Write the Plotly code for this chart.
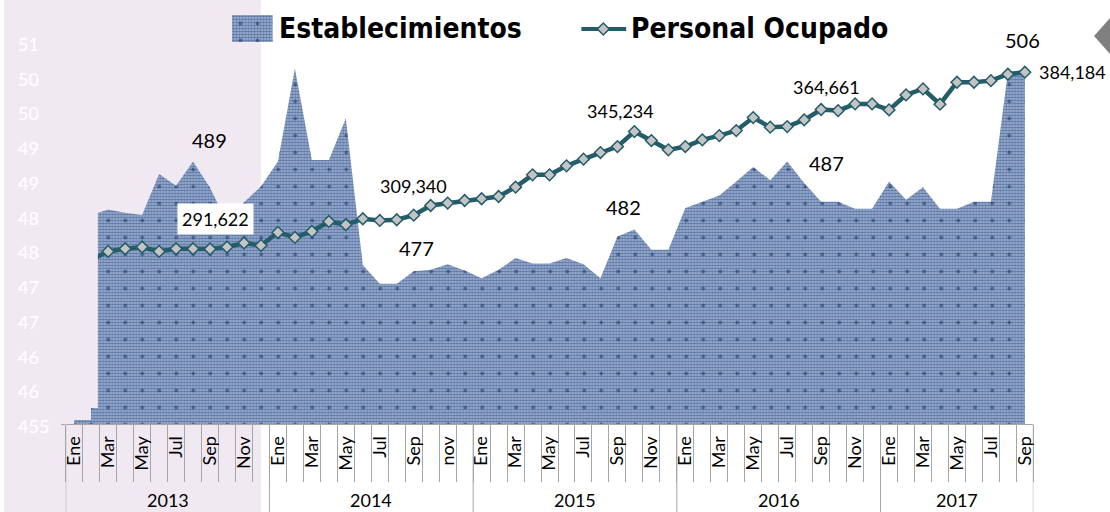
import plotly.graph_objects as go

W, H = 1110, 512

# ---------------------------------------------------------------- data
years = ["2013", "2014", "2015", "2016", "2017"]
months = ["Ene", "Feb", "Mar", "Abr", "May", "Jun", "Jul", "Ago", "Sep", "Oct", "Nov", "Dic"]
months_2014 = ["Ene", "Feb", "Mar", "Abr", "May", "Jun", "Jul", "Ago", "Sep", "Oct", "nov", "Dic"]
months_in_2017 = 9

# Establecimientos (left axis)
establecimientos = [
    485.0, 485.1, 485.9, 485.4, 485.1, 491.0, 489.3, 492.8, 489.0, 484.0, 486.9, 489.2,  # 2013
    492.8, 506.2, 493.0, 493.0, 499.0, 477.9, 475.2, 475.2, 477.0, 477.2, 478.0, 477.1,  # 2014
    476.0, 477.2, 478.9, 478.1, 478.1, 478.9, 478.0, 476.0, 482.0, 483.0, 480.1, 480.1,  # 2015
    486.1, 487.0, 487.9, 489.9, 492.0, 490.1, 492.8, 489.7, 487.0, 487.0, 486.0, 486.0,  # 2016
    489.9, 487.3, 489.1, 486.0, 486.0, 487.0, 487.0, 505.6, 506.0,                       # 2017
]

# Personal Ocupado (right axis, hidden)
personal_ocupado = [
    None, 286000, 290357, 291767, 292656, 290357, 291767, 291767, 291622, 292656, 294748, 293493,
    300291, 297677, 300815, 306044, 304318, 307456, 306567, 306933, 309340, 314410, 315665, 317025,
    317914, 319117, 324032, 330464, 330464, 335170, 338672, 342124, 345234, 353107, 348401, 343537,
    345263, 348767, 351016, 353630, 360428, 355408, 355722, 359222, 364661, 364086, 367590, 367590,
    364452, 372294, 375431, 367433, 378937, 378937, 379774, 383121, 384184,
]

y_tick_values = [455, 460, 465, 470, 475, 480, 485, 490, 495, 500, 505, 510]
y_tick_labels = ["455", "46", "46", "47", "47", "48", "48", "49", "49", "50", "50", "51"]

# ---------------------------------------------------------------- helpers
periods = []
for yr in years:
    names = months_2014 if yr == "2014" else months
    if yr == "2017":
        names = names[:months_in_2017]
    for m in names:
        periods.append((yr, m))
x_idx = list(range(len(periods)))
n = len(periods)


def px_x(px):
    return px / W


def px_y(py):
    return 1 - py / H


NAVY = "#183870"
LIGHT = "#A8BAD9"
CROSS = "#112C60"
TEAL = "#235D6A"
GREY = "#A6A6A6"
LAVENDER = "#F1E9F2"
FONT = "Lato, 'Open Sans', sans-serif"
LEGEND_FONT = "'Liberation Sans Narrow', 'DejaVu Sans Condensed', 'Liberation Sans', sans-serif"

fine_pattern = dict(shape=".", fgcolor=NAVY, bgcolor=LIGHT, size=3, solidity=0.62)
cross_pattern = dict(shape=".", fgcolor=CROSS, bgcolor="rgba(0,0,0,0)", size=17, solidity=0.04)

fig = go.Figure()

# area: fine checker texture plus sparse dark dots on top
fig.add_trace(go.Scatter(
    x=x_idx, y=establecimientos, mode="lines", fill="tozeroy",
    line=dict(width=0, color=NAVY), fillpattern=fine_pattern,
    hoverinfo="skip", showlegend=False, name="Establecimientos"))
fig.add_trace(go.Scatter(
    x=x_idx, y=establecimientos, mode="lines", fill="tozeroy",
    fillcolor="rgba(0,0,0,0)", line=dict(width=0), fillpattern=cross_pattern,
    hoverinfo="skip", showlegend=False))

# line with diamond markers
fig.add_trace(go.Scatter(
    x=x_idx, y=personal_ocupado, yaxis="y2", mode="lines+markers",
    line=dict(color=TEAL, width=4.5),
    marker=dict(symbol="diamond", size=9, color="#C4C4C4", line=dict(color=TEAL, width=1.5)),
    hoverinfo="skip", showlegend=False, name="Personal Ocupado"))

# legend swatch drawn on its own small axes
for patt in (fine_pattern, cross_pattern):
    fig.add_trace(go.Scatter(
        x=[0, 1, 1, 0, 0], y=[0, 0, 1, 1, 0], xaxis="x3", yaxis="y3",
        mode="lines", fill="toself", line=dict(width=0),
        fillcolor="rgba(0,0,0,0)" if patt is cross_pattern else LIGHT,
        fillpattern=patt, hoverinfo="skip", showlegend=False))

# ---------------------------------------------------------------- axes
label_idx = [i for i in x_idx if i % 2 == 0]
label_txt = [periods[i][1] for i in label_idx]
year_bounds = [-0.5]
for yr in years:
    year_bounds.append(year_bounds[-1] + sum(1 for p in periods if p[0] == yr))

fig.update_layout(
    width=W, height=H, margin=dict(l=0, r=0, t=0, b=0),
    paper_bgcolor="white", plot_bgcolor="rgba(0,0,0,0)", showlegend=False,
    xaxis=dict(
        domain=[px_x(62), px_x(1034)], range=[-0.5, n - 0.5],
        tickmode="array", tickvals=label_idx, ticktext=label_txt, tickangle=-90,
        ticks="", showline=True, linecolor=GREY, linewidth=1,
        showgrid=False, zeroline=False, ticklabelstandoff=4,
        tickfont=dict(family=FONT, size=18, color="#000000"),
        minor=dict(tickmode="array", tickvals=[i - 0.5 for i in range(n + 1)],
                   ticks="outside", ticklen=57, tickcolor=GREY, tickwidth=1, showgrid=False),
    ),
    yaxis=dict(
        domain=[px_y(424), px_y(42)], range=[455, 510],
        tickmode="array", tickvals=[455], ticks="outside", ticklen=4, tickcolor=GREY,
        showticklabels=False, showgrid=False, zeroline=False, showline=False,
    ),
    yaxis2=dict(overlaying="y", anchor="x", range=[200000, 400000], visible=False),
    xaxis3=dict(domain=[px_x(229), px_x(270)], anchor="y3", range=[0, 1], visible=False),
    yaxis3=dict(domain=[px_y(42), px_y(15)], anchor="x3", range=[0, 1], visible=False),
)

shapes = [
    dict(type="rect", xref="paper", yref="paper", x0=0, x1=px_x(258), y0=0, y1=1,
         fillcolor=LAVENDER, line=dict(width=0), layer="below"),
    # panel edge over the first months
    dict(type="rect", xref="paper", yref="paper", x0=0, x1=px_x(94.3), y0=px_y(408), y1=1,
         fillcolor=LAVENDER, line=dict(width=0), layer="above"),
    dict(type="rect", xref="paper", yref="paper", x0=0, x1=px_x(87.4), y0=px_y(420), y1=px_y(408),
         fillcolor=LAVENDER, line=dict(width=0), layer="above"),
]
for b in year_bounds:
    shapes.append(dict(type="line", xref="x", yref="paper", x0=b, x1=b, y0=px_y(424), y1=0,
                       line=dict(color=GREY, width=1)))
# legend line key
shapes.append(dict(type="line", xref="paper", yref="paper", x0=px_x(580), x1=px_x(625),
                   y0=px_y(29), y1=px_y(29), line=dict(color=TEAL, width=4)))
cx, cy, r = 602, 29, 6
shapes.append(dict(type="path", xref="paper", yref="paper",
                   path=f"M {px_x(cx - r)},{px_y(cy)} L {px_x(cx)},{px_y(cy - r)} "
                        f"L {px_x(cx + r)},{px_y(cy)} L {px_x(cx)},{px_y(cy + r)} Z",
                   fillcolor="#C4C4C4", line=dict(color=TEAL, width=1.5)))
# grey marker at the top-right corner
shapes.append(dict(type="path", xref="paper", yref="paper",
                   path=f"M {px_x(1095)},{px_y(36)} L {px_x(1112)},{px_y(17)} "
                        f"L {px_x(1129)},{px_y(36)} L {px_x(1112)},{px_y(55)} Z",
                   fillcolor="#808080", line=dict(width=0), layer="above"))
fig.update_layout(shapes=shapes)

annotations = []
# left axis labels
for v, t in zip(y_tick_values, y_tick_labels):
    annotations.append(dict(x=px_x(12), xref="paper", y=v, yref="y", text=t, showarrow=False,
                            xanchor="left", yanchor="middle", yshift=-2,
                            font=dict(family=FONT, size=18, color="#FFFFFF")))
# year labels
start = 0
for yr in years:
    cnt = sum(1 for p in periods if p[0] == yr)
    annotations.append(dict(x=start + (cnt - 1) / 2, xref="x", y=px_y(500), yref="paper",
                            text=yr, showarrow=False, yanchor="middle",
                            font=dict(family=FONT, size=18, color="#000000")))
    start += cnt
# legend texts
annotations.append(dict(x=px_x(274), y=px_y(28), xref="paper", yref="paper",
                        text="<b>Establecimientos</b>", showarrow=False,
                        xanchor="left", yanchor="middle",
                        font=dict(family=LEGEND_FONT, size=28, color="#000000")))
annotations.append(dict(x=px_x(628), y=px_y(28), xref="paper", yref="paper",
                        text="<b>Personal Ocupado</b>", showarrow=False,
                        xanchor="left", yanchor="middle",
                        font=dict(family=LEGEND_FONT, size=28, color="#000000")))

# September value labels
sep_idx = [i for i, p in enumerate(periods) if p[1] == "Sep"]
est_offsets = [(-1, 48), (3, 23), (6, 29), (5, 39), (-2, 30)]
per_offsets = [(5, 30), (0, 29), (3, 36), (5, 23)]
for k, i in enumerate(sep_idx):
    dx, dy = est_offsets[k]
    annotations.append(dict(x=i, xref="x", y=establecimientos[i], yref="y",
                            text=f"{establecimientos[i]:.0f}", showarrow=False,
                            xshift=dx, yshift=dy,
                            font=dict(family=FONT, size=20, color="#000000")))
for k, i in enumerate(sep_idx):
    txt = f"{personal_ocupado[i]:,.0f}"
    if k < len(per_offsets):
        dx, dy = per_offsets[k]
        ann = dict(x=i, xref="x", y=personal_ocupado[i], yref="y2", text=txt,
                   showarrow=False, xshift=dx, yshift=dy,
                   font=dict(family=FONT, size=18, color="#000000"))
        if k == 0:
            ann.update(bgcolor="#FFFFFF", borderpad=4)
    else:
        ann = dict(x=i, xref="x", y=personal_ocupado[i], yref="y2", text=txt,
                   showarrow=False, xanchor="left", xshift=12,
                   font=dict(family=FONT, size=18, color="#000000"))
    annotations.append(ann)

fig.update_layout(annotations=annotations)

fig.write_html("out.html")
